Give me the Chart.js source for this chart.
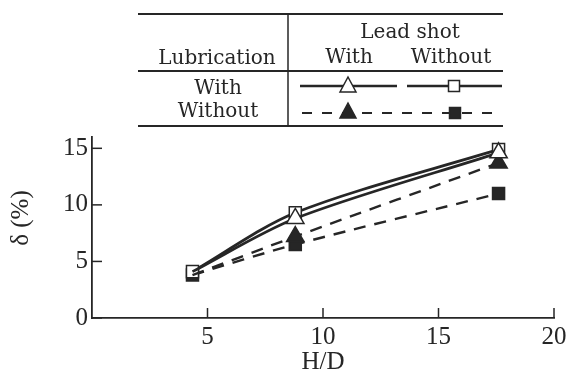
<!DOCTYPE html>
<html>
<head>
<meta charset="utf-8">
<script src="https://cdn.jsdelivr.net/npm/chart.js"></script>
<style>
  body { margin: 0; background: #fff; }
  #wrap { width: 571px; height: 371px; }
</style>
</head>
<body>
<div id="wrap"><canvas id="chart" width="571" height="371"></canvas></div>
<script>
// H/D ratios and strain values (%) for each lubrication / lead shot case
const hdValues = [4.35, 8.8, 17.6]
const lubWithShotWith = [4.1, 8.8, 14.6]
const lubWithShotWithout = [4.1, 9.3, 14.9]
const lubWithoutShotWith = [3.8, 7.2, 13.7]
const lubWithoutShotWithout = [3.8, 6.5, 11.0]
const xTicks = [5, 10, 15, 20]
const yTicks = [0, 5, 10, 15]

const ink = "#262626"
const serif = "'Liberation Serif', 'Times New Roman', serif"
const wideSerif = "'DejaVu Serif', serif"

function toPoints(ys) {
    return hdValues.map((x, i) => ({ x: x, y: ys[i] }))
}

// triangles share the first point with the squares, so only the square is shown there
function series(ys, style, filled, radius, dashed) {
    return {
        data: toPoints(ys),
        borderColor: ink,
        borderWidth: dashed ? 2.4 : 2.8,
        borderDash: dashed ? [12, 9] : [],
        tension: 0.3,
        pointStyle: style,
        pointRadius: style === "triangle" ? [0, radius, radius] : radius,
        pointBackgroundColor: filled ? ink : "#fff",
        pointBorderColor: ink,
        pointBorderWidth: 1.5,
    }
}

function marker(ctx, kind, x, y, filled) {
    ctx.save()
    ctx.setLineDash([])
    ctx.lineWidth = 1.5
    ctx.strokeStyle = ink
    ctx.fillStyle = filled ? ink : "#fff"
    ctx.beginPath()
    if (kind === "triangle") {
        ctx.moveTo(x, y - 9)
        ctx.lineTo(x + 8, y + 6)
        ctx.lineTo(x - 8, y + 6)
        ctx.closePath()
    } else {
        ctx.rect(x - 5.5, y - 5.5, 11, 11)
    }
    ctx.fill()
    ctx.stroke()
    ctx.restore()
}

// table-style key above the plot
const keyTable = {
    id: "keyTable",
    afterDraw(chart) {
        const ctx = chart.ctx
        ctx.save()
        ctx.strokeStyle = ink
        ctx.lineWidth = 2
        ;[14, 71, 126].forEach(y => {
            ctx.beginPath()
            ctx.moveTo(138, y)
            ctx.lineTo(503, y)
            ctx.stroke()
        })
        ctx.lineWidth = 1.5
        ctx.beginPath()
        ctx.moveTo(288, 14)
        ctx.lineTo(288, 126)
        ctx.stroke()

        ctx.fillStyle = ink
        ctx.font = "20px " + wideSerif
        ctx.textAlign = "center"
        ctx.textBaseline = "alphabetic"
        ctx.fillText("Lead shot", 410, 38)
        ctx.fillText("Lubrication", 217, 64)
        ctx.fillText("With", 349, 63)
        ctx.fillText("Without", 451, 63)
        ctx.fillText("With", 218, 94)
        ctx.fillText("Without", 218, 117)

        ctx.lineWidth = 2.6
        ctx.beginPath()
        ctx.moveTo(300, 86)
        ctx.lineTo(397, 86)
        ctx.moveTo(407, 86)
        ctx.lineTo(502, 86)
        ctx.stroke()
        ctx.lineWidth = 2.2
        ctx.setLineDash([10, 10])
        ctx.beginPath()
        ctx.moveTo(302, 113)
        ctx.lineTo(502, 113)
        ctx.stroke()
        ctx.restore()

        marker(ctx, "triangle", 348, 86, false)
        marker(ctx, "rect", 454, 86, false)
        marker(ctx, "triangle", 348, 112, true)
        marker(ctx, "rect", 455, 113, true)

        // rotated y axis title
        ctx.save()
        ctx.translate(21, 218)
        ctx.rotate(-Math.PI / 2)
        ctx.fillStyle = ink
        ctx.font = "25px " + serif
        ctx.textAlign = "center"
        ctx.textBaseline = "middle"
        ctx.fillText("δ (%)", 0, 0)
        ctx.restore()
    }
}

// tick marks pointing into the plot
const inwardTicks = {
    id: "inwardTicks",
    afterDraw(chart) {
        const ctx = chart.ctx
        const xs = chart.scales.x
        const ys = chart.scales.y
        ctx.save()
        ctx.strokeStyle = ink
        ctx.lineWidth = 1.5
        xTicks.forEach(v => {
            const px = xs.getPixelForValue(v)
            ctx.beginPath()
            ctx.moveTo(px, ys.bottom)
            ctx.lineTo(px, ys.bottom - 10)
            ctx.stroke()
        })
        yTicks.forEach(v => {
            const py = ys.getPixelForValue(v)
            ctx.beginPath()
            ctx.moveTo(xs.left, py)
            ctx.lineTo(xs.left + 10, py)
            ctx.stroke()
        })
        ctx.restore()
    }
}

new Chart("chart", {
    type: "line",
    data: {
        datasets: [
            series(lubWithShotWith, "triangle", false, 10, false),
            series(lubWithoutShotWith, "triangle", true, 10, true),
            series(lubWithShotWithout, "rect", false, 8.5, false),
            series(lubWithoutShotWithout, "rect", true, 8.5, true),
        ]
    },
    options: {
        responsive: false,
        animation: false,
        layout: { padding: { top: 137, right: 17, left: 0, bottom: 0 } },
        plugins: {
            legend: { display: false },
            tooltip: { enabled: false },
        },
        scales: {
            x: {
                type: "linear",
                min: 0,
                max: 20,
                afterBuildTicks: scale => { scale.ticks = xTicks.map(v => ({ value: v })) },
                afterFit: scale => { scale.height = 53 },
                grid: { display: false, drawTicks: false },
                border: { display: true, color: ink, width: 1.8 },
                ticks: {
                    color: ink,
                    padding: 4,
                    font: { family: serif, size: 25 },
                },
                title: {
                    display: true,
                    text: "H/D",
                    color: ink,
                    padding: { top: 0, bottom: -4 },
                    font: { family: serif, size: 25, lineHeight: 1 },
                },
            },
            y: {
                min: 0,
                max: 16,
                afterBuildTicks: scale => { scale.ticks = yTicks.map(v => ({ value: v })) },
                afterFit: scale => { scale.width = 92 },
                grid: { display: false, drawTicks: false },
                border: { display: true, color: ink, width: 1.8 },
                ticks: {
                    color: ink,
                    padding: 4,
                    font: { family: serif, size: 25 },
                },
            },
        },
    },
    plugins: [keyTable, inwardTicks],
})
</script>
</body>
</html>
